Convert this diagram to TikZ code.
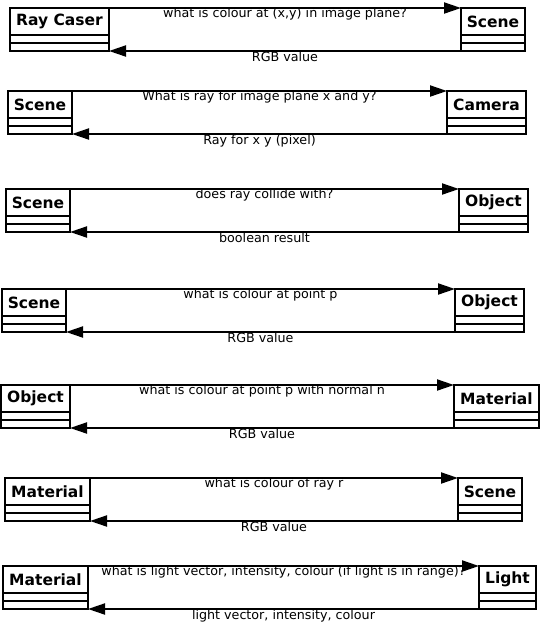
\documentclass[tikz,border=0pt]{standalone}
\usepackage{fontspec}
\setmainfont{DejaVu Sans}
\usetikzlibrary{arrows.meta}
\tikzset{
  cls/.style={draw, line width=2pt, inner sep=0pt, outer sep=0pt, font=\fontsize{15.5}{15.5}\selectfont\bfseries, minimum height=27pt, anchor=north west},
  comp/.style={draw, line width=2pt, inner sep=0pt, outer sep=0pt, minimum height=8pt, anchor=north},
  msg/.style={line width=2pt, -{Triangle[length=17pt,width=11pt]}},
  lbl/.style={font=\fontsize{12.7}{13}\selectfont, inner sep=0pt, anchor=base},
}
\newcommand\umlclass[5]{%
  \node[cls, minimum width=#4pt] (#1) at (#2,#3) {\raisebox{-0.5pt}{#5}};
  \node[comp, minimum width=#4pt] (#1a) at (#1.south) {};
  \node[comp, minimum width=#4pt] (#1b) at (#1a.south) {};
}
\newcommand\exchange[4]{%
  \draw[msg] (#1.north east) -- (#2.north west) node[midway, lbl, yshift=-9.5pt] {#3};
  \draw[msg] (#2b.south west) -- (#1b.south east) node[midway, lbl, yshift=-10pt] {#4};
}
\begin{document}
\begin{tikzpicture}[x=1pt, y=-1pt]
\useasboundingbox (0,0) rectangle (541,625);
% row 1
\umlclass{rc}{10}{8}{99}{Ray Caser}
\umlclass{sa}{461}{8}{64}{Scene}
\exchange{rc}{sa}{what is colour at (x,y) in image plane?}{RGB value}
% row 2
\umlclass{sb}{8}{91}{64}{Scene}
\umlclass{cam}{447}{91}{79}{Camera}
\exchange{sb}{cam}{What is ray for image plane x and y?}{Ray for x y (pixel)}
% row 3
\umlclass{sc}{6}{189}{64}{Scene}
\umlclass{oa}{459}{189}{69}{Object}
\exchange{sc}{oa}{does ray collide with?}{boolean result}
% row 4
\umlclass{sd}{2}{289}{64}{Scene}
\umlclass{ob}{455}{289}{69}{Object}
\exchange{sd}{ob}{what is colour at point p}{RGB value}
% row 5
\umlclass{oc}{1}{385}{69}{Object}
\umlclass{ma}{454}{385}{85}{Material}
\exchange{oc}{ma}{what is colour at point p with normal n}{RGB value}
% row 6
\umlclass{mb}{5}{478}{85}{Material}
\umlclass{se}{458}{478}{64}{Scene}
\exchange{mb}{se}{what is colour of ray r}{RGB value}
% row 7
\umlclass{mc}{3}{566}{85}{Material}
\umlclass{li}{479}{566}{57}{Light}
\exchange{mc}{li}{what is light vector, intensity, colour (if light is in range)?}{light vector, intensity, colour}
\end{tikzpicture}
\end{document}
